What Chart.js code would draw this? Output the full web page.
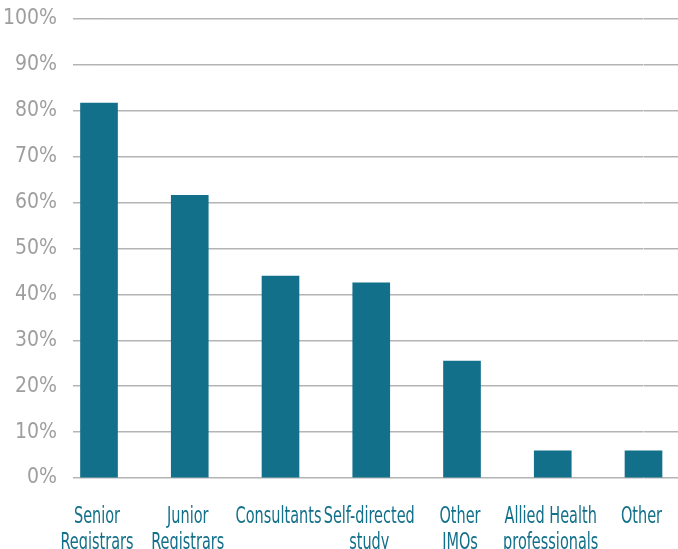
<!DOCTYPE html>
<html>
<head>
<meta charset="utf-8">
<script src="https://cdn.jsdelivr.net/npm/chart.js@4/dist/chart.umd.min.js"></script>
<style>
  html, body { margin: 0; padding: 0; background: #fff; overflow: hidden; }
  #wrap { width: 678px; height: 549px; }
  canvas { display: block; }
</style>
</head>
<body>
<div id="wrap"><canvas id="chart"></canvas></div>
<script>
const categories = [
  ['Senior', 'Registrars'],
  ['Junior', 'Registrars'],
  'Consultants',
  ['Self-directed', 'study'],
  ['Other', 'JMOs'],
  ['Allied Health', 'professionals'],
  'Other'
];
const percentages = [81.7, 61.6, 44.0, 42.5, 25.5, 5.9, 5.9];
const yMin = 0, yMax = 100, yStep = 10;

const TEAL = '#13708a';
const GRID = '#b4b4b4';
const CONDENSED = "'DejaVu Sans Condensed', 'DejaVu Sans', sans-serif";

// x labels in a narrow face: squeeze the condensed font horizontally
const narrowLabels = {
  id: 'narrowLabels',
  afterDraw(chart) {
    const scale = chart.scales.x;
    const ctx = chart.ctx;
    ctx.save();
    ctx.fillStyle = TEAL;
    ctx.font = '23px ' + CONDENSED;
    ctx.textAlign = 'center';
    ctx.textBaseline = 'alphabetic';
    scale.ticks.forEach((t, i) => {
      const lines = [].concat(chart.data.labels[i]);
      const x = scale.getPixelForTick(i);
      lines.forEach((line, k) => {
        ctx.save();
        ctx.translate(x - 2, scale.top + 45 + k * 26);
        ctx.scale(0.7, 1);
        ctx.fillText(line, 0, 0);
        ctx.restore();
      });
    });
    ctx.restore();
  }
};

new Chart(document.getElementById('chart'), {
  type: 'bar',
  data: {
    labels: categories,
    datasets: [{
      data: percentages,
      backgroundColor: TEAL,
      barThickness: 37,
      clip: false,
    }],
  },
  options: {
    responsive: true, maintainAspectRatio: false, animation: false,
    layout: { padding: { top: 19, left: 0, right: 0, bottom: 0 } },
    plugins: { legend: { display: false }, tooltip: { enabled: false } },
    scales: {
      x: {
        offset: false,
        grid: { display: false, drawTicks: false },
        border: { display: false },
        ticks: { display: false },
        afterFit(s) { s.height = 71; },
      },
      y: {
        min: yMin, max: yMax,
        grid: { color: GRID, lineWidth: 1.5, tickLength: 26 },
        border: { display: false },
        ticks: { stepSize: yStep, color: '#9e9e9e', font: { family: CONDENSED, size: 21 }, padding: 16, callback: v => v + '%' },
        afterFit(s) { s.width = 99; s.paddingTop = 0; s.paddingBottom = 0; },
      },
      y2: {
        position: 'right',
        min: yMin, max: yMax,
        grid: { color: GRID, lineWidth: 1.5, tickLength: 35, drawOnChartArea: false },
        border: { display: false },
        ticks: { stepSize: yStep, display: false },
        afterFit(s) { s.width = 34.5; s.paddingTop = 0; s.paddingBottom = 0; },
      },
    },
  },
  plugins: [narrowLabels],
});
</script>
</body>
</html>
